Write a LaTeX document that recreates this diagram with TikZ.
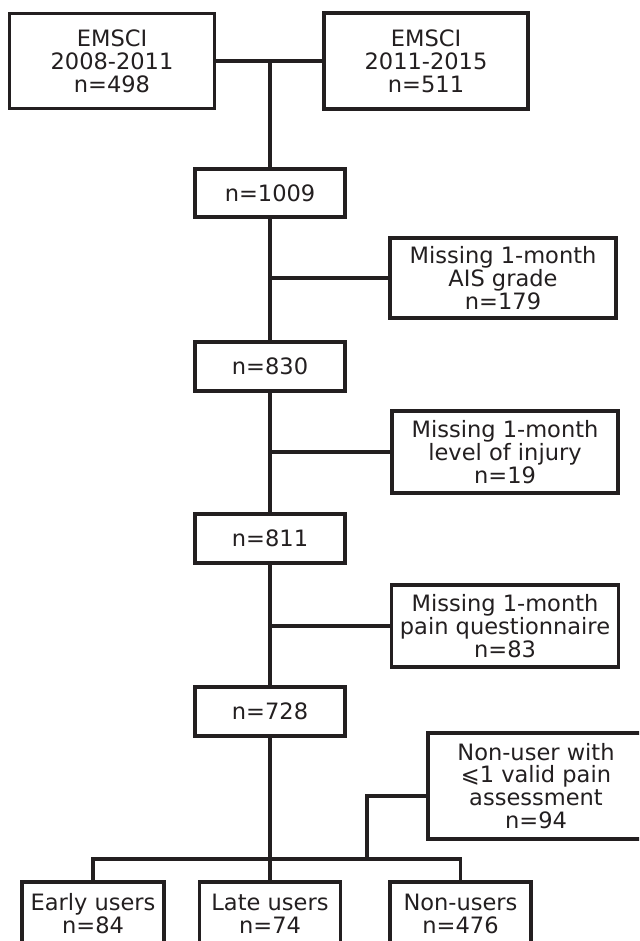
\documentclass[tikz,border=0pt]{standalone}
\usepackage{fontspec}
\setmainfont{DejaVu Sans}
\usepackage{tikz}
\definecolor{ink}{RGB}{35,31,32}
\tikzset{every picture/.style={line width=0.75pt}}

\begin{document}
\begin{tikzpicture}[x=0.75pt,y=0.75pt,yscale=-1,xscale=1,
  box/.style={draw=ink, text=ink, line width=2.4pt, align=center, inner sep=0pt,
    font=\fontsize{16.9}{17.2}\selectfont},
  link/.style={draw=ink, line width=2.4pt}]
%set diagram size to the reference, 639 x 941
\useasboundingbox (0,0) rectangle (639,941);
\clip (0,0) rectangle (639,941);

%Shape: Rectangles, sources
\node[box, minimum width=153.75pt, minimum height=71.25pt] (emA) at (112,61) {EMSCI\\2008-2011\\n=498};
\node[box, minimum width=153pt, minimum height=72pt] (emB) at (426,61) {EMSCI\\2011-2015\\n=511};
%Shape: Rectangles, main column
\node[box, minimum width=112.5pt, minimum height=36pt] (n1009) at (270,193) {n=1009};
\node[box, minimum width=112.5pt, minimum height=36.75pt] (n830) at (270,366.5) {n=830};
\node[box, minimum width=112.5pt, minimum height=36.75pt] (n811) at (270,538.5) {n=811};
\node[box, minimum width=112.5pt, minimum height=36.75pt] (n728) at (270,711.5) {n=728};
%Shape: Rectangles, exclusions
\node[box, minimum width=169.5pt, minimum height=60pt] (ais) at (503,278) {Missing 1-month\\AIS grade\\n=179};
\node[box, minimum width=169.5pt, minimum height=61.5pt] (lvl) at (505,452) {Missing 1-month\\level of injury\\n=19};
\node[box, minimum width=170.25pt, minimum height=61.5pt] (pain) at (505,626) {Missing 1-month\\pain questionnaire\\n=83};
\node[box, minimum width=162pt, minimum height=79.5pt] (nonu) at (536,786) {Non-user with\\⩽1 valid pain\\assessment\\n=94};
%Shape: Rectangles, groups
\node[box, minimum width=106.5pt, minimum height=48pt] (early) at (93,914) {Early users\\n=84};
\node[box, minimum width=105.75pt, minimum height=48pt] (late) at (270,914) {Late users\\n=74};
\node[box, minimum width=105.75pt, minimum height=48pt] (non) at (460.5,914) {Non-users\\n=476};

%Straight Lines
\coordinate (join) at (270,61);
\coordinate (kink) at (367,796);
\coordinate (bus) at (270,859);
\draw[link] (emA) -- (emB);
\draw[link] (join) -- (n1009);
\draw[link] (n1009) -- (n830);
\draw[link] (n1009.south |- ais.west) -- (ais);
\draw[link] (n830) -- (n811);
\draw[link] (n830.south |- lvl.west) -- (lvl);
\draw[link] (n811) -- (n728);
\draw[link] (n811.south |- pain.west) -- (pain);
\draw[link] (n728) -- (late);
\draw[link] (early.north) |- (bus) -| (non.north);
\draw[link] (nonu.west |- kink) -| (kink |- bus);

\end{tikzpicture}
\end{document}
